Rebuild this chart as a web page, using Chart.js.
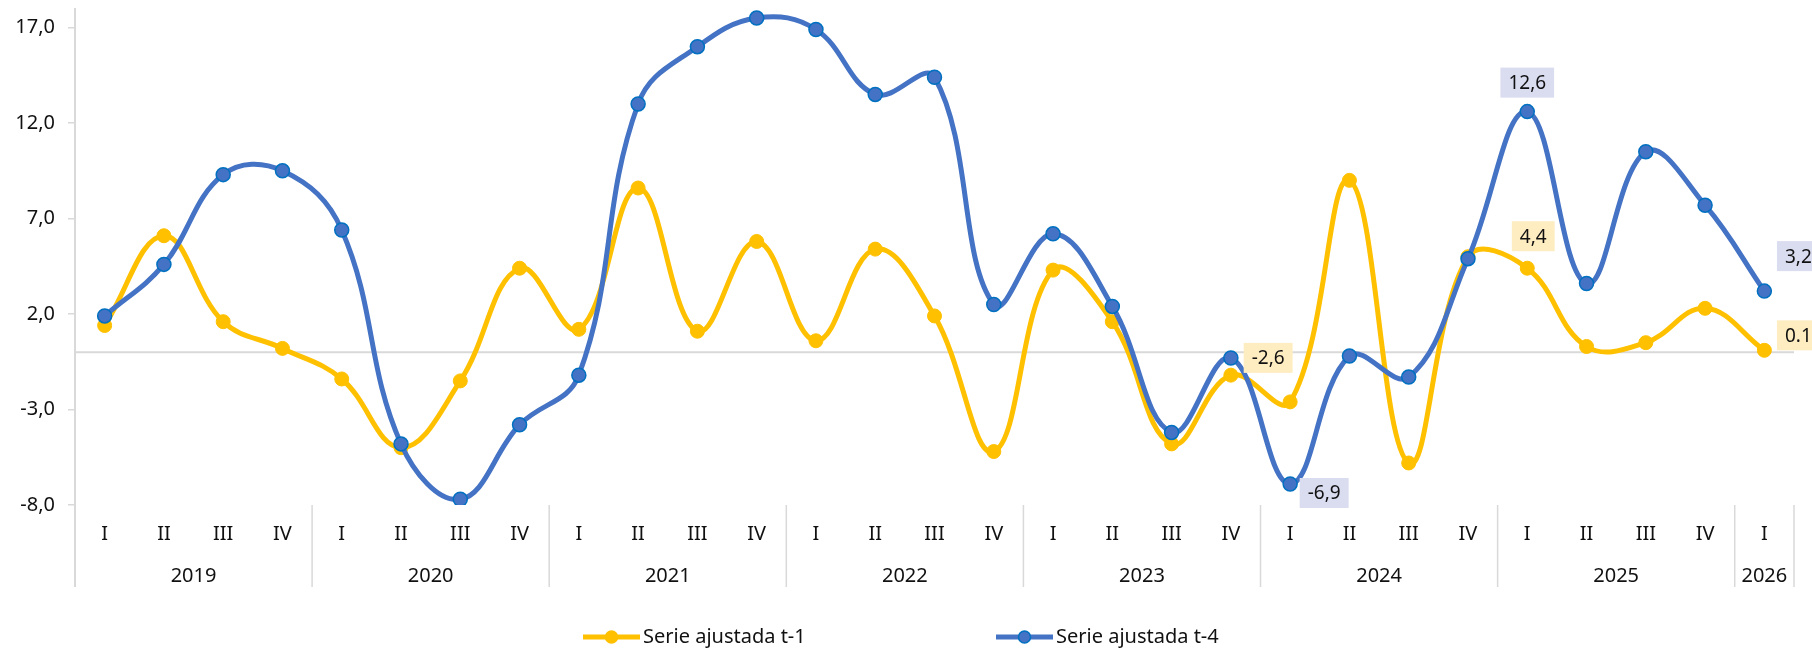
<!DOCTYPE html>
<html lang="es">
<head>
<meta charset="utf-8">
<script src="https://cdn.jsdelivr.net/npm/chart.js@4.4.1/dist/chart.umd.min.js"></script>
<style>
  html, body { margin: 0; padding: 0; background: #fff; }
  #wrap { width: 1812px; height: 649px; position: relative; }
</style>
</head>
<body>
<div id="wrap"><canvas id="chart"></canvas></div>
<script>
// quarterly series, 2019-I .. 2026-I
const quarterLabels = [
    'I', 'II', 'III', 'IV', 'I', 'II', 'III', 'IV', 'I', 'II', 'III', 'IV',
    'I', 'II', 'III', 'IV', 'I', 'II', 'III', 'IV', 'I', 'II', 'III', 'IV',
    'I', 'II', 'III', 'IV', 'I'
];
const yearLabels = ['2019', '2020', '2021', '2022', '2023', '2024', '2025', '2026'];
const quartersPerYear = [4, 4, 4, 4, 4, 4, 4, 1];

const serieT1 = [
    1.4, 6.1, 1.6, 0.2, -1.4, -5.0, -1.5, 4.4,
    1.2, 8.6, 1.1, 5.8, 0.6, 5.4, 1.9, -5.2,
    4.3, 1.6, -4.8, -1.2, -2.6, 9.0, -5.8, 5.0,
    4.4, 0.3, 0.5, 2.3, 0.1
];
const serieT4 = [
    1.9, 4.6, 9.3, 9.5, 6.4, -4.8, -7.7, -3.8,
    -1.2, 13.0, 16.0, 17.5, 16.9, 13.5, 14.4, 2.5,
    6.2, 2.4, -4.2, -0.3, -6.9, -0.2, -1.3, 4.9,
    12.6, 3.6, 10.5, 7.7, 3.2
];
const yTicks = [-8, -3, 2, 7, 12, 17];

// highlighted values (Q1 2024, 2025, 2026)
const labelsT1 = { 20: '-2,6', 24: '4,4', 28: '0.1' };
const labelsT4 = { 20: '-6,9', 24: '12,6', 28: '3,2' };

const YELLOW = '#FFC000';
const BLUE = '#4472C4';
const GRID = '#D9D9D9';
const FONT = '"Noto Sans", sans-serif';

// where each data label box sits relative to its point
const labelOffsets = {
    t1: { 20: [-22, -44], 24: [6, -32], 28: [34, -15] },
    t4: { 20: [34, 9], 24: [0, -29], 28: [34, -35] }
};

const extrasPlugin = {
    id: 'extras',
    beforeDatasetsDraw(chart) {
        const { ctx, chartArea, scales } = chart;
        const y0 = scales.y.getPixelForValue(0);
        ctx.save();
        ctx.strokeStyle = GRID;
        ctx.lineWidth = 2;
        ctx.beginPath();
        ctx.moveTo(chartArea.left, y0);
        ctx.lineTo(chartArea.right, y0);
        ctx.stroke();
        ctx.restore();
    },
    afterDatasetsDraw(chart) {
        const { ctx } = chart;
        const drawLabels = (dsIndex, texts, offsets, bg) => {
            const meta = chart.getDatasetMeta(dsIndex);
            Object.keys(texts).forEach(k => {
                const pt = meta.data[k];
                const [dx, dy] = offsets[k];
                const cx = pt.x + dx, cy = pt.y + dy;
                ctx.font = '19px ' + FONT;
                const w = ctx.measureText(texts[k]).width + 16;
                const h = 30;
                ctx.fillStyle = bg;
                ctx.fillRect(cx - w / 2, cy - h / 2, w, h);
                ctx.fillStyle = '#111';
                ctx.textAlign = 'center';
                ctx.textBaseline = 'middle';
                ctx.fillText(texts[k], cx, cy + 1);
            });
        };
        ctx.save();
        drawLabels(0, labelsT1, labelOffsets.t1, '#FFEDC2');
        drawLabels(1, labelsT4, labelOffsets.t4, '#DADCF0');
        ctx.restore();
    },
    afterDraw(chart) {
        const { ctx, chartArea, scales } = chart;
        const x = scales.x;
        const step = x.getPixelForValue(1) - x.getPixelForValue(0);
        const bottom = 587;
        ctx.save();
        // left axis line continues down through the category labels
        ctx.strokeStyle = GRID;
        ctx.lineWidth = 2;
        ctx.beginPath();
        ctx.moveTo(chartArea.left, chartArea.bottom);
        ctx.lineTo(chartArea.left, bottom);
        ctx.stroke();

        // year group dividers and year labels
        ctx.lineWidth = 1.5;
        ctx.fillStyle = '#111';
        ctx.font = '20px ' + FONT;
        ctx.textAlign = 'center';
        ctx.textBaseline = 'middle';
        let start = 0;
        yearLabels.forEach((yr, i) => {
            const n = quartersPerYear[i];
            const left = x.getPixelForValue(start) - step / 2;
            const right = x.getPixelForValue(start + n - 1) + step / 2;
            ctx.beginPath();
            ctx.moveTo(left, chartArea.bottom);
            ctx.lineTo(left, bottom);
            ctx.stroke();
            if (i === yearLabels.length - 1) {
                ctx.beginPath();
                ctx.moveTo(right, chartArea.bottom);
                ctx.lineTo(right, bottom);
                ctx.stroke();
            }
            ctx.fillText(yr, (left + right) / 2, 576);
            start += n;
        });

        // legend
        const items = [
            { x: 583, text: 'Serie ajustada t-1', color: YELLOW, border: YELLOW },
            { x: 996, text: 'Serie ajustada t-4', color: BLUE, border: '#0070C0' }
        ];
        const ly = 637;
        items.forEach(it => {
            ctx.strokeStyle = it.color;
            ctx.lineWidth = 5;
            ctx.beginPath();
            ctx.moveTo(it.x, ly);
            ctx.lineTo(it.x + 57, ly);
            ctx.stroke();
            ctx.beginPath();
            ctx.arc(it.x + 28.5, ly, 6, 0, Math.PI * 2);
            ctx.fillStyle = it.color;
            ctx.fill();
            ctx.lineWidth = 1.5;
            ctx.strokeStyle = it.border;
            ctx.stroke();
            ctx.fillStyle = '#111';
            ctx.textAlign = 'left';
            ctx.fillText(it.text, it.x + 60, ly);
        });
        ctx.restore();
    }
};

new Chart(document.getElementById('chart'), {
    type: 'line',
    data: {
        labels: quarterLabels,
        datasets: [
            {
                label: 'Serie ajustada t-1',
                data: serieT1,
                borderColor: YELLOW,
                backgroundColor: YELLOW,
                pointBorderColor: YELLOW,
                borderWidth: 5,
                pointRadius: 7,
                pointBorderWidth: 1,
                tension: 0.4,
                order: 1
            },
            {
                label: 'Serie ajustada t-4',
                data: serieT4,
                borderColor: BLUE,
                backgroundColor: BLUE,
                pointBorderColor: '#0070C0',
                borderWidth: 5,
                pointRadius: 7,
                pointBorderWidth: 1.5,
                tension: 0.4,
                order: 0
            }
        ]
    },
    options: {
        responsive: true,
        maintainAspectRatio: false,
        animation: false,
        layout: { padding: { top: 7, right: 18, left: 0, bottom: 0 } },
        plugins: { legend: { display: false }, tooltip: { enabled: false } },
        scales: {
            x: {
                offset: true,
                grid: { display: false, drawTicks: false },
                border: { display: false },
                ticks: {
                    autoSkip: false,
                    maxRotation: 0,
                    padding: 17,
                    color: '#111',
                    font: { family: FONT, size: 20 }
                },
                afterFit(scale) { scale.height = 144; }
            },
            y: {
                min: -8,
                max: 18,
                afterBuildTicks(scale) { scale.ticks = yTicks.map(v => ({ value: v })); },
                grid: { drawOnChartArea: false, drawTicks: true, tickLength: 7, color: GRID, lineWidth: 1.5 },
                border: { display: true, color: GRID, width: 2 },
                ticks: {
                    padding: 13,
                    color: '#111',
                    font: { family: FONT, size: 20 },
                    callback: v => v.toFixed(1).replace('.', ',')
                },
                afterFit(scale) {
                    scale.width = 75;
                    scale.paddingTop = 0;
                    scale.paddingBottom = 0;
                }
            }
        }
    },
    plugins: [extrasPlugin]
});
</script>
</body>
</html>
